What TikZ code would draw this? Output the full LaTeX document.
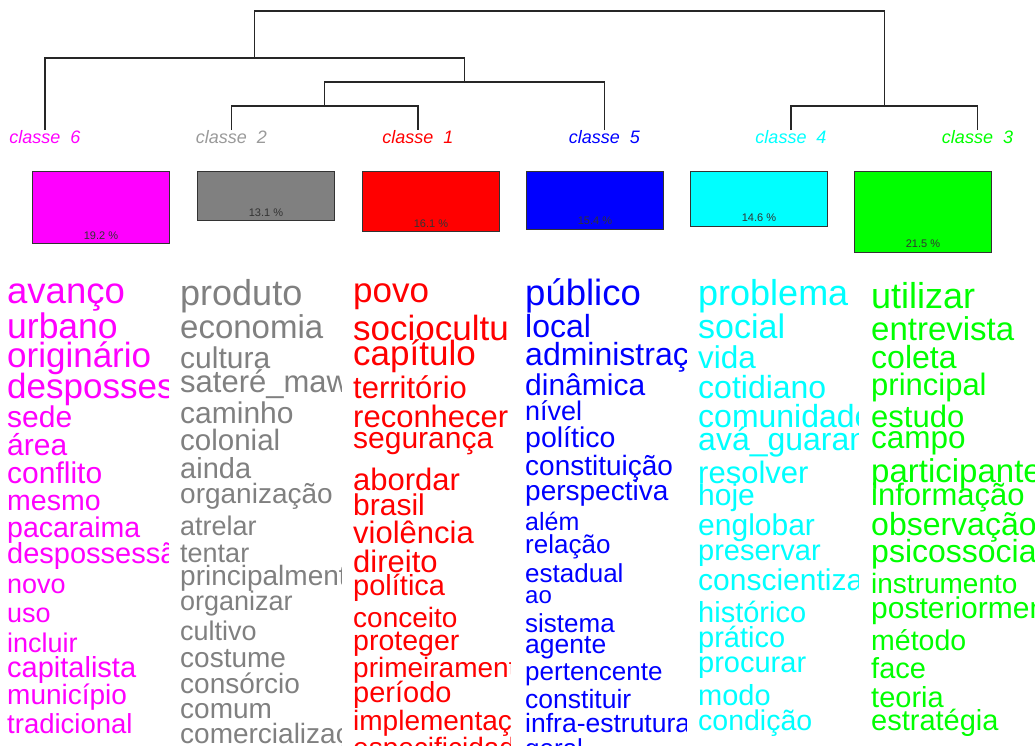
\documentclass[tikz,border=0pt]{standalone}
\usepackage{fontspec}
\setmainfont{Liberation Sans}
\definecolor{cmag}{RGB}{255, 0, 255}
\definecolor{cgray}{RGB}{128, 128, 128}
\definecolor{cred}{RGB}{255, 0, 0}
\definecolor{cblue}{RGB}{0, 0, 255}
\definecolor{ccyan}{RGB}{0, 255, 255}
\definecolor{cgreen}{RGB}{0, 255, 0}
\usetikzlibrary{positioning}
\tikzset{
    branch/.style={draw=black!85, line width=1.2pt},
    classlabel/.style={
        anchor=base,
        inner sep=0pt,
        font=\fontsize{18}{18}\selectfont\itshape
    },
    classbox/.style={
        rectangle,
        draw=black!80,
        line width=0.9pt,
        anchor=north west,
        minimum width=137pt,
        inner sep=0pt
    },
    pctlabel/.style={inner sep=0pt, font=\fontsize{11}{11}\selectfont, text=black!80},
    wordnode/.style={anchor=base west, inner sep=0pt}
}

\begin{document}
\begin{tikzpicture}[x=1pt, y=-1pt]
          \useasboundingbox (0,0) rectangle (1035,745);

          % class labels and dendrogram
          \node[classlabel, text=cmag] (lab6) at (45,143) {classe~~6};
          \node[classlabel, text=cgray!80] (lab2) at (231.5,143) {classe~~2};
          \node[classlabel, text=cred] (lab1) at (418,143) {classe~~1};
          \node[classlabel, text=cblue] (lab5) at (604.5,143) {classe~~5};
          \node[classlabel, text=ccyan] (lab4) at (791,143) {classe~~4};
          \node[classlabel, text=cgreen] (lab3) at (977.5,143) {classe~~3};

          \coordinate (k6) at (45,130);
          \coordinate (k2) at (231.5,130);
          \coordinate (k1) at (418,130);
          \coordinate (k5) at (604.5,130);
          \coordinate (k4) at (791,130);
          \coordinate (k3) at (977.5,130);
          \coordinate (m21) at (324.75,106);
          \coordinate (m215) at (464.6,82);
          \coordinate (m6215) at (254.8,58);
          \coordinate (m43) at (884.25,106);
          \coordinate (root) at (569.5,11);

          \draw[branch] (k2) |- (m21) -| (k1);
          \draw[branch] (m21) |- (m215) -| (k5);
          \draw[branch] (k6) |- (m6215) -| (m215);
          \draw[branch] (k4) |- (m43) -| (k3);
          \draw[branch] (m6215) |- (root) -| (m43);

          % class size boxes
          \foreach \k/\x/\p/\c in {6/32/19.2/cmag, 2/197/13.1/cgray, 1/362/16.1/cred,
                                   5/526/15.4/cblue, 4/690/14.6/ccyan, 3/854/21.5/cgreen}{
            \node[classbox, fill=\c, minimum height=3.75*\p] (b\k) at (\x,171) {};
            \node[pctlabel, above=4.5pt of b\k.south] (p\k) {\p~\%};
          }

          % word lists
          \begin{scope}
            \clip (0,262) rectangle (168,745);
            \foreach \w/\y/\s [count=\i] in {avanço/303/36.5, urbano/338/35.5, originário/367/35,
                desposses/398/35, sede/427/30, área/455/30, conflito/483/30, mesmo/510/28.5,
                pacaraima/537/28.5, despossessão/563/29, novo/593/27, uso/622/27,
                incluir/652/27, capitalista/677/29, município/704/28, tradicional/733/27.5}
              \node[wordnode, text=cmag, font=\fontsize{\s}{\s}\selectfont] (c6-\i) at (7,\y) {\w};
          \end{scope}
          \begin{scope}
            \clip (172,262) rectangle (341,745);
            \foreach \w/\y/\s [count=\i] in {produto/305/36, economia/338/33, cultura/368/30,
                sateré\_mawé/392/31, caminho/423/30, colonial/450/29.5, ainda/478/29,
                organização/503/28, atrelar/535/27, tentar/562/27, principalmente/585/28,
                organizar/610/27, cultivo/640/27, costume/667/28, consórcio/693/28,
                comum/718/28, comercialização/743/28}
              \node[wordnode, text=cgray, font=\fontsize{\s}{\s}\selectfont] (c2-\i) at (180,\y) {\w};
          \end{scope}
          \begin{scope}
            \clip (345,262) rectangle (510,745);
            \foreach \w/\y/\s [count=\i] in {povo/302/35, sociocultural/340/35, capítulo/365/35,
                território/398/31, reconhecer/427/31, segurança/448/30, abordar/490/31,
                brasil/515/30, violência/543/31, direito/572/31, política/595/29,
                conceito/627/28, proteger/650/28.5, primeiramente/677/28, período/702/29,
                implementação/730/28, especificidade/757/28}
              \node[wordnode, text=cred, font=\fontsize{\s}{\s}\selectfont] (c1-\i) at (353,\y) {\w};
          \end{scope}
          \begin{scope}
            \clip (517,262) rectangle (686,745);
            \foreach \w/\y/\s [count=\i] in {público/305/36.5, local/337/32, administração/365/32,
                dinâmica/395/30, nível/420/27, político/447/28.5, constituição/475/28,
                perspectiva/500/28, além/530/25, relação/553/26, estadual/582/26, ao/603/24,
                sistema/632/26, agente/653/26.5, pertencente/680/26, constituir/708/26.5,
                infra-estrutura/732/26.5, geral/757/26}
              \node[wordnode, text=cblue, font=\fontsize{\s}{\s}\selectfont] (c5-\i) at (525,\y) {\w};
          \end{scope}
          \begin{scope}
            \clip (690,262) rectangle (858,745);
            \foreach \w/\y/\s [count=\i] in {problema/305/36, social/338/34, vida/368/31.5,
                cotidiano/398/32, comunidade/427/32, avá\_guarani/450/32, resolver/483/31,
                hoje/505/30, englobar/535/30, preservar/560/29, conscientização/590/30,
                histórico/622/29, prático/647/29, procurar/672/29, modo/705/29, condição/730/28.5}
              \node[wordnode, text=ccyan, font=\fontsize{\s}{\s}\selectfont] (c4-\i) at (698,\y) {\w};
          \end{scope}
          \begin{scope}
            \clip (863,262) rectangle (1035,745);
            \foreach \w/\y/\s [count=\i] in {utilizar/308/36, entrevista/340/33, coleta/368/32,
                principal/395/31, estudo/427/31, campo/448/31.5, participantes/482/33,
                informação/505/31, observação/535/32, psicossocial/562/32, instrumento/593/28,
                posteriormente/618/30, método/650/28.5, face/678/29, teoria/707/29,
                estratégia/730/29}
              \node[wordnode, text=cgreen, font=\fontsize{\s}{\s}\selectfont] (c3-\i) at (871,\y) {\w};
          \end{scope}
        \end{tikzpicture}
\end{document}
